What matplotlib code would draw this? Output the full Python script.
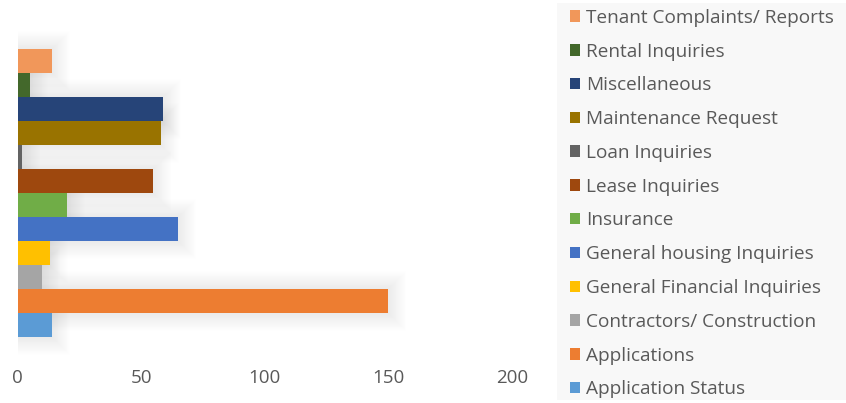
import matplotlib
matplotlib.use("Agg")
import matplotlib.pyplot as plt
from matplotlib.patches import Rectangle

categories = ["Application Status", "Applications", "Contractors/ Construction",
              "General Financial Inquiries", "General housing Inquiries", "Insurance",
              "Lease Inquiries", "Loan Inquiries", "Maintenance Request",
              "Miscellaneous", "Rental Inquiries", "Tenant Complaints/ Reports"]
values = [14, 150, 10, 13, 65, 20, 55, 2, 58, 59, 5, 14]
colors = ["#5B9BD5", "#ED7D31", "#A5A5A5", "#FFC000", "#4472C4", "#70AD47",
          "#9E480E", "#636363", "#997300", "#264478", "#43682B", "#F1975A"]
xticks = [0, 50, 100, 150, 200]

plt.rcParams['font.family'] = ['Open Sans', 'DejaVu Sans']
TXT = "#595959"

W, H = 846, 403
fig = plt.figure(figsize=(W / 100, H / 100), dpi=100)
ax = fig.add_axes([17.5 / W, (H - 355) / H, 494.5 / W, 324 / H])
ax.set_xlim(0, 200)
ax.set_ylim(-1.25, 11 + 1.25)

# px to data units
px_x = 200 / 494.5
px_y = 13.5 / 324

# soft shadow layers
for k in range(1, 21):
    ex = 0.9 * k
    for i, v in enumerate(values):
        ax.barh(i, v + ex * px_x, left=0, height=1 + 2 * ex * px_y,
                color="black", alpha=0.0048, linewidth=0, zorder=1)

bars = []
for i, (c, v, col) in enumerate(zip(categories, values, colors)):
    b = ax.barh(i, v, height=1.0, color=col, label=c, linewidth=0, zorder=3)
    bars.append(b)

for s in ax.spines.values():
    s.set_visible(False)
ax.set_yticks([])
ax.set_xticks(xticks)
ax.set_xticklabels([str(t) for t in xticks])
ax.tick_params(axis='x', length=0, pad=10, labelsize=13.5, labelcolor=TXT)

# legend background
fig.patches.append(Rectangle((557 / W, 3 / H), (W - 557) / W, 397 / H,
                             transform=fig.transFigure, facecolor="#F8F8F8",
                             edgecolor="none", zorder=0))

handles = bars[::-1]
labels = categories[::-1]
leg = fig.legend(handles, labels, loc="upper left",
                 bbox_to_anchor=(564 / W, 1 - 3 / H),
                 frameon=False, fontsize=13.7, labelcolor=TXT,
                 handlelength=0.55, handleheight=0.55, handletextpad=0.3,
                 labelspacing=0.83, borderaxespad=0, borderpad=0.3)

fig.savefig("out.png", dpi=100)
